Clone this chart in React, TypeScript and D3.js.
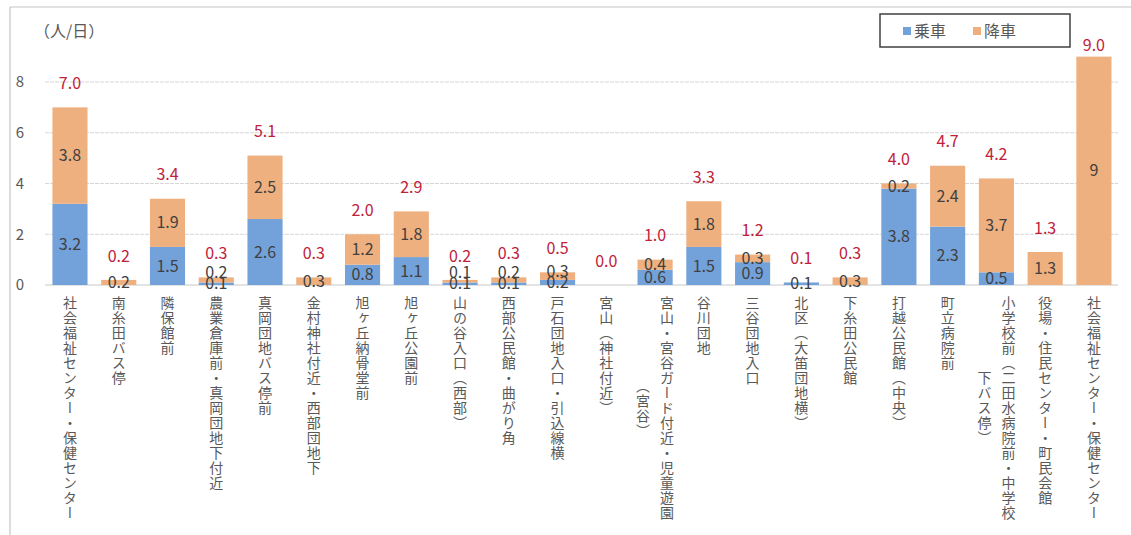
import React from "react";
import * as d3 from "d3";

const categories: string[] = [
  "社会福祉センター・保健センター",
  "南糸田バス停",
  "隣保館前",
  "農業倉庫前・真岡団地下付近",
  "真岡団地バス停前",
  "金村神社付近・西部団地下",
  "旭ヶ丘納骨堂前",
  "旭ヶ丘公園前",
  "山の谷入口（西部）",
  "西部公民館・曲がり角",
  "戸石団地入口・引込線横",
  "宮山（神社付近）",
  "宮山・宮谷ガード付近・児童遊園\n（宮谷）",
  "谷川団地",
  "三谷団地入口",
  "北区（大笛団地横）",
  "下糸田公民館",
  "打越公民館（中央）",
  "町立病院前",
  "小学校前（二田水病院前・中学校\n下バス停）",
  "役場・住民センター・町民会館",
  "社会福祉センター・保健センター",
];

const boarding: number[] = [3.2, 0, 1.5, 0.1, 2.6, 0, 0.8, 1.1, 0.1, 0.1, 0.2, 0, 0.6, 1.5, 0.9, 0.1, 0, 3.8, 2.3, 0.5, 0, 0];
const alighting: number[] = [3.8, 0.2, 1.9, 0.2, 2.5, 0.3, 1.2, 1.8, 0.1, 0.2, 0.3, 0, 0.4, 1.8, 0.3, 0, 0.3, 0.2, 2.4, 3.7, 1.3, 9];
const totals: number[] = [7.0, 0.2, 3.4, 0.3, 5.1, 0.3, 2.0, 2.9, 0.2, 0.3, 0.5, 0.0, 1.0, 3.3, 1.2, 0.1, 0.3, 4.0, 4.7, 4.2, 1.3, 9.0];
const yTicks: number[] = [0, 2, 4, 6, 8];
const seriesNames: string[] = ["乗車", "降車"];
const unitLabel = "（人/日）";

const BLUE = "#73a1d9";
const ORANGE = "#efb07f";
const FONT = "'Noto Sans CJK JP', 'Noto Sans', sans-serif";

export default function App() {
  const W = 1131;
  const H = 535;
  const x = d3
    .scaleBand<number>()
    .domain(categories.map((_, i) => i))
    .range([45.6, 1118.3])
    .paddingInner(0.28)
    .paddingOuter(0.14);
  const y = d3.scaleLinear().domain([0, 8]).range([285, 82]);
  const bw = x.bandwidth();
  const charAdv = 15;
  const colGap = 24;

  return (
    <svg
      width={W}
      height={H}
      style={{ position: "absolute", left: 0, top: 0, background: "#fff", fontFamily: FONT }}
    >
      {/* frame */}
      <line x1={10} y1={7} x2={W} y2={7} stroke="#c4c4c4" strokeWidth={1.2} />
      <line x1={10} y1={7} x2={10} y2={H} stroke="#c4c4c4" strokeWidth={1.2} />

      <text x={34} y={37} fontSize={16} fill="#595959">{unitLabel}</text>

      {/* gridlines and y ticks */}
      {yTicks.map((t) => (
        <g key={t}>
          <line x1={45} x2={1118} y1={y(t)} y2={y(t)} stroke={t === 0 ? "#c8c8c8" : "#d6d6d6"} strokeWidth={1} strokeDasharray={t === 0 ? undefined : "4,1"} />
          <text x={20} y={y(t)} dy="0.35em" fontSize={15} fill="#595959" textAnchor="middle">{t}</text>
        </g>
      ))}

      {/* bars */}
      {categories.map((_, i) => {
        const x0 = x(i)!;
        const b = boarding[i];
        const a = alighting[i];
        return (
          <g key={i}>
            {b > 0 && <rect x={x0} width={bw} y={y(b)} height={y(0) - y(b)} fill={BLUE} />}
            {a > 0 && <rect x={x0} width={bw} y={y(b + a)} height={y(b) - y(b + a)} fill={ORANGE} />}
          </g>
        );
      })}

      {/* segment labels */}
      {categories.map((_, i) => {
        const cx = x(i)! + bw / 2;
        const b = boarding[i];
        const a = alighting[i];
        const by = y(b / 2);
        let ay = y(b + a / 2);
        if (b > 0 && a > 0 && by - ay < 11) ay = by - 11;
        return (
          <g key={i} fontSize={16} fill="#404040" textAnchor="middle">
            {b > 0 && <text x={cx} y={by} dy="0.35em">{String(b)}</text>}
            {a > 0 && <text x={cx} y={ay} dy="0.35em">{String(a)}</text>}
          </g>
        );
      })}

      {/* total labels */}
      {categories.map((_, i) => {
        const cx = x(i)! + bw / 2;
        const ty = Math.max(y(totals[i]) - 24, 45);
        return (
          <text key={i} x={cx} y={ty} dy="0.35em" fontSize={16} fill="#c0213a" textAnchor="middle">
            {totals[i].toFixed(1)}
          </text>
        );
      })}

      {/* category labels (vertical) */}
      {categories.map((c, i) => {
        const cx = x(i)! + bw / 2;
        const lines = c.split("\n");
        const maxLen = d3.max(lines, (l) => l.length)!;
        const n = lines.length;
        return (
          <g key={i}>
            {lines.map((l, j) => {
              const lx = cx + ((n - 1) / 2 - j) * colGap;
              const off = lines.length > 1 ? ((maxLen - l.length) / 2) * charAdv : 0;
              return (
                <text
                  key={j}
                  x={lx}
                  y={296 + off}
                  fontSize={14}
                  letterSpacing={1}
                  fill="#595959"
                  style={{ writingMode: "vertical-rl" }}
                >
                  {l}
                </text>
              );
            })}
          </g>
        );
      })}

      {/* legend */}
      <rect x={880} y={14} width={190} height={33} fill="#fff" stroke="#404040" strokeWidth={1.5} />
      {seriesNames.map((s, k) => (
        <g key={s}>
          <rect x={903 + k * 70} y={27} width={8} height={8} fill={k === 0 ? BLUE : ORANGE} />
          <text x={914 + k * 70} y={31} dy="0.35em" fontSize={16} fill="#595959">{s}</text>
        </g>
      ))}
    </svg>
  );
}
